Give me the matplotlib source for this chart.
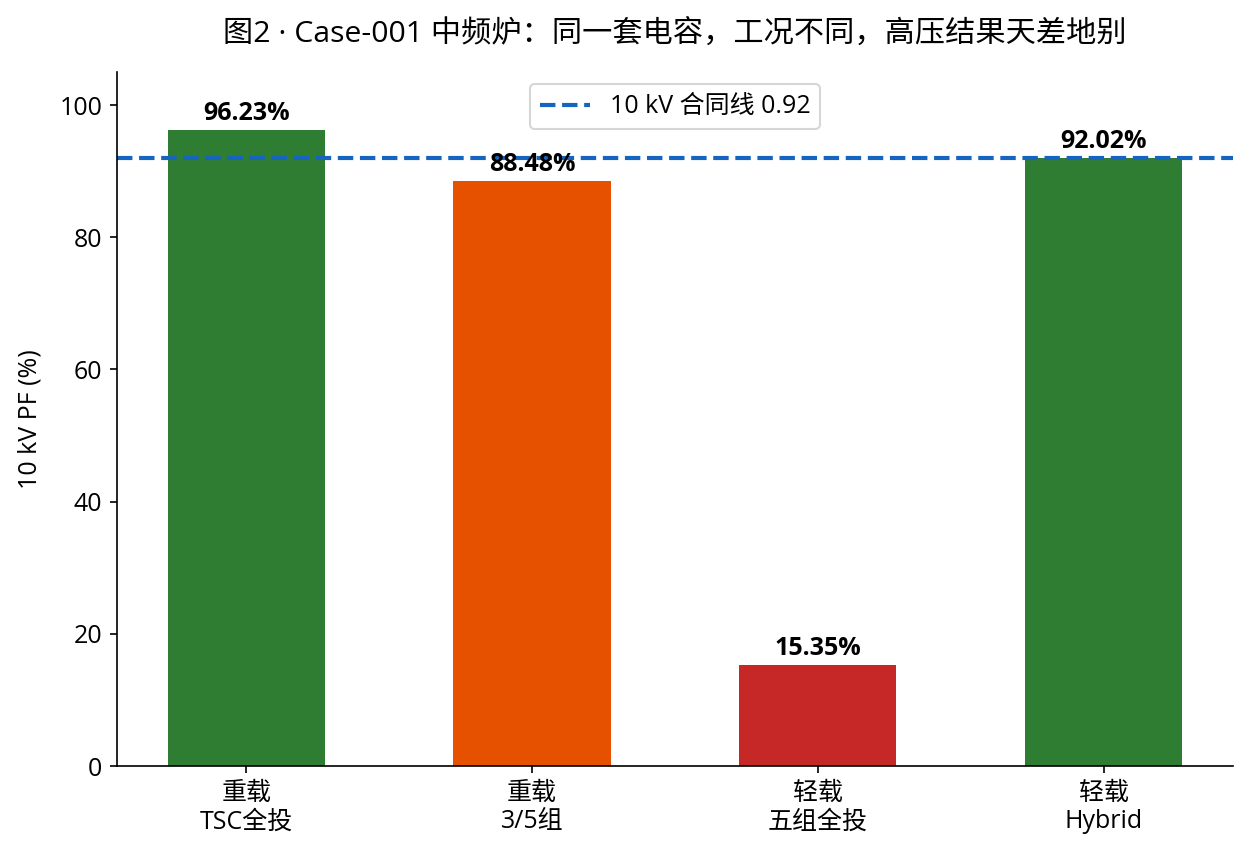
import matplotlib
matplotlib.use('Agg')
import matplotlib.pyplot as plt

plt.rcParams['font.family'] = ['Open Sans', 'Noto Sans CJK SC', 'DejaVu Sans']
plt.rcParams['axes.unicode_minus'] = False

categories = ['重载\nTSC全投', '重载\n3/5组', '轻载\n五组全投', '轻载\nHybrid']
pf_values = [96.23, 88.48, 15.35, 92.02]
bar_colors = ['#2e7d32', '#e65100', '#c62828', '#2e7d32']
contract_line = 92

fig, ax = plt.subplots(figsize=(8.34, 5.707), dpi=150)

x = range(len(categories))
bars = ax.bar(x, pf_values, width=0.55, color=bar_colors)

for b, v in zip(bars, pf_values):
    ax.text(b.get_x() + b.get_width() / 2, v + 0.6, f'{v:.2f}%',
            ha='center', va='bottom', fontsize=12, fontweight='bold')

ax.axhline(contract_line, color='#1565c0', linestyle='--', linewidth=2,
           label='10 kV 合同线 0.92')

ax.set_xticks(list(x))
ax.set_xticklabels(categories, fontsize=12)
ax.tick_params(axis='y', labelsize=12)
ax.set_ylim(0, 105)
ax.set_ylabel('10 kV PF (%)', fontsize=12, labelpad=8)
ax.set_title('图2 · Case-001 中频炉：同一套电容，工况不同，高压结果天差地别', fontsize=14.5, pad=14)
ax.legend(loc='upper center', fontsize=12)

ax.spines['top'].set_visible(False)
ax.spines['right'].set_visible(False)

plt.subplots_adjust(left=0.0935, right=0.9856, top=0.9159, bottom=0.1051)
plt.savefig('out.png', dpi=150)
